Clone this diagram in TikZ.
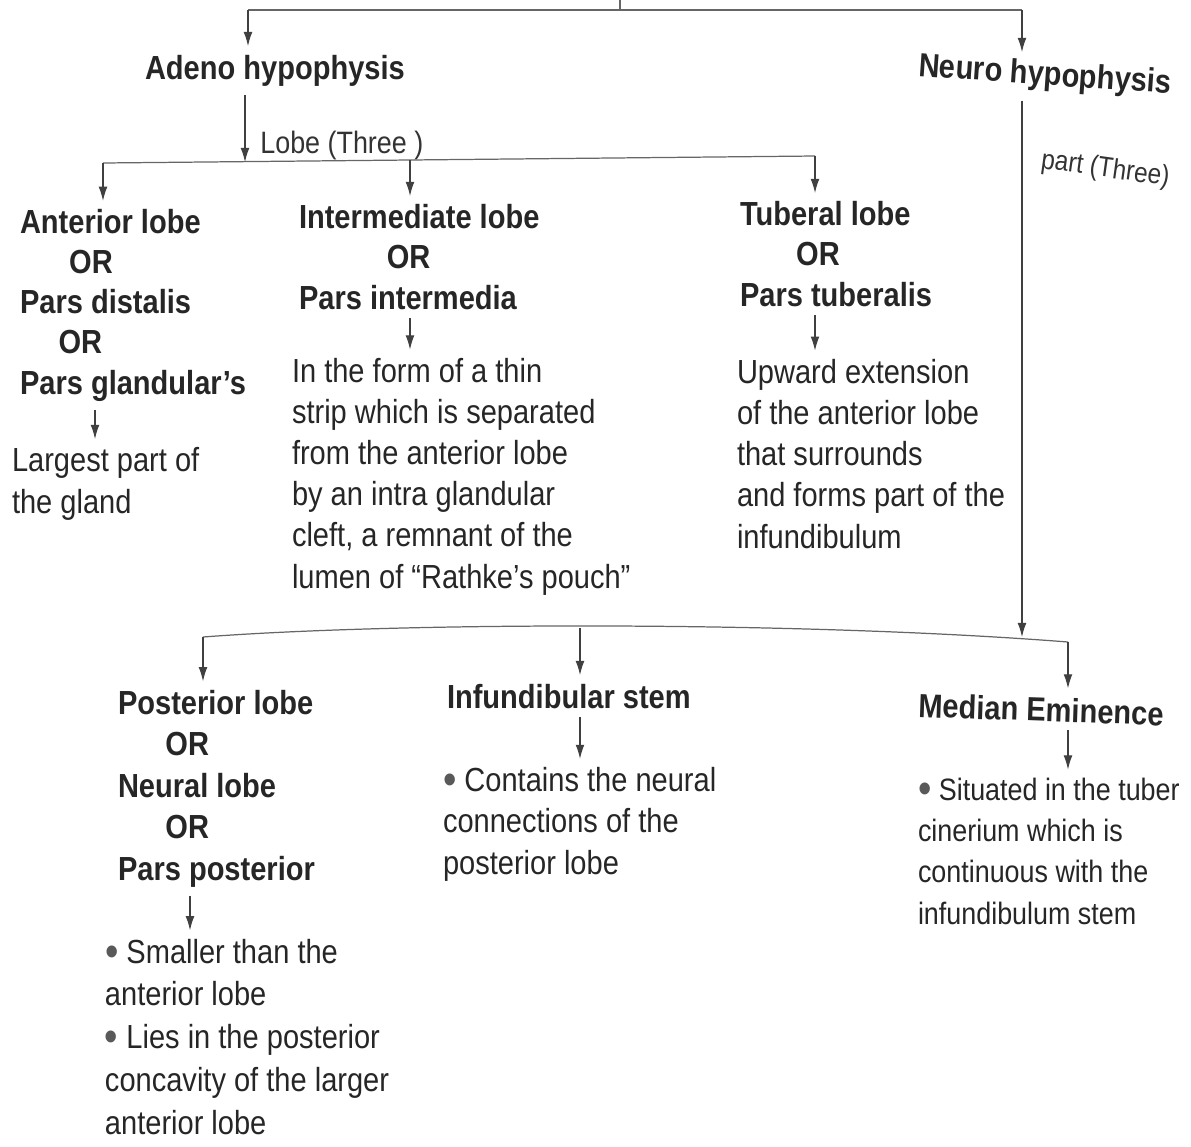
\documentclass[tikz,border=0pt]{standalone}
\usepackage{fontspec}
\setmainfont{Liberation Sans}[FakeStretch=0.87]
\usetikzlibrary{arrows.meta}
\newcommand{\bul}{\raisebox{-1.6pt}{\color{black!65}\fontsize{25}{0}\selectfont•}\ }
\begin{document}
\begin{tikzpicture}[x=0.02cm,y=-0.02cm]
    \tikzset{
        head/.style={anchor=base west, align=left, inner sep=0pt, outer xsep=0pt, outer ysep=5pt,
            font=\fontsize{19}{22.8}\selectfont\bfseries, text=black!85},
        note/.style={anchor=base west, align=left, inner sep=0pt, outer xsep=0pt, outer ysep=5pt,
            font=\fontsize{19}{23.4}\selectfont, text=black!85},
        tag/.style={anchor=base west, inner sep=0pt, text=black!80},
        bar/.style={draw=black!60, line width=0.7pt},
        arc/.style={draw=black!75, line width=0.6pt, -{Latex[length=8pt,width=5pt]}}
    }
    \useasboundingbox (0,0) rectangle (1191,1147);

    % first level (multi-line nodes sit on the baseline of their last line)
    \node[head] (adeno) at (145,79) {Adeno hypophysis};
    \node[head, rotate=-4] (neuro) at (918,76) {Neuro hypophysis};

    % three lobes of the adeno hypophysis
    \node[head] (ant) at (20,394) {Anterior lobe\\\hspace*{28pt}OR\\Pars distalis\\\hspace*{22pt}OR\\Pars glandular's};
    \node[head] (inter) at (299,309) {Intermediate lobe\\\hspace*{50pt}OR\\Pars intermedia};
    \node[head] (tub) at (740,306) {Tuberal lobe\\\hspace*{32pt}OR\\Pars tuberalis};
    \node[note] (antd) at (12,513) {Largest part of\\the gland};
    \node[note] (interd) at (292,588) {In the form of a thin\\strip which is separated\\from the anterior lobe\\by an intra glandular\\cleft, a remnant of the\\lumen of “Rathke’s pouch”};
    \node[note] (tubd) at (737,548) {Upward extension\\of the anterior lobe\\that surrounds\\and forms part of the\\infundibulum};

    % three parts of the neuro hypophysis
    \node[head, font=\fontsize{19}{23.6}\selectfont\bfseries] (post) at (118,880) {Posterior lobe\\\hspace*{27pt}OR\\Neural lobe\\\hspace*{27pt}OR\\Pars posterior};
    \node[head] (infund) at (447,708) {Infundibular stem};
    \node[head, rotate=-2] (median) at (918,717) {Median Eminence};
    \node[note, font=\fontsize{19}{24.3}\selectfont] (postd) at (105,1134) {\bul Smaller than the\\anterior lobe\\\bul Lies in the posterior\\concavity of the larger\\anterior lobe};
    \node[note] (infd) at (443,874) {\bul Contains the neural\\connections of the\\posterior lobe};
    \node[note, font=\fontsize{17.6}{23.4}\selectfont] (medd) at (918,924) {\bul Situated in the tuber\\cinerium which is\\continuous with the\\infundibulum stem};

    \node[tag, font=\fontsize{17.6}{20}\selectfont] (lobes) at (260,153) {Lobe (Three )};
    \node[tag, font=\fontsize{16}{19}\selectfont, rotate=-8] (parts) at (1040,168) {part (Three)};

    % branch points
    \coordinate (up) at (620,0);
    \coordinate (tm) at (620,10);
    \coordinate (tl) at (248,10);
    \coordinate (tr) at (1022,10);
    \coordinate (lb) at (245,162);
    \coordinate (l1) at (103,163);
    \coordinate (l2) at (410,160);
    \coordinate (l3) at (815,156);
    \coordinate (a1) at (95,0);
    \coordinate (b1) at (203,637);
    \coordinate (b2) at (580,628);
    \coordinate (b3) at (1068,642);
    \coordinate (nb) at (1022,637);
    \coordinate (p1) at (190,0);

    \draw[bar] (up) -- (tm);
    \draw[bar] (tl) -- (tr);
    \draw[bar] (l1) -- (l2) -- (l3);
    \draw[bar] (b1) .. controls (400,622) and (800,621) .. (b3);

    \draw[arc] (tl) -- (tl |- adeno.north);
    \draw[arc] (tr) -- (tr |- neuro.north);
    \draw[arc] (adeno.south -| lb) -- (lb);
    \foreach \x/\y in {l1/ant, l2/inter, l3/tub, b1/post, b2/infund, b3/median}{
        \draw[arc] (\x) -- (\x |- \y.north);
    }
    \draw[arc] (ant.south -| a1) -- (antd.north -| a1);
    \draw[arc] (inter.south -| l2) -- (interd.north -| l2);
    \draw[arc] (tub.south -| l3) -- (tubd.north -| l3);
    \draw[arc] (neuro.south -| nb) -- (nb);
    \draw[arc] (post.south -| p1) -- (postd.north -| p1);
    \draw[arc] (infund.south -| b2) -- (infd.north -| b2);
    \draw[arc] (median.south -| b3) -- (medd.north -| b3);
\end{tikzpicture}
\end{document}
